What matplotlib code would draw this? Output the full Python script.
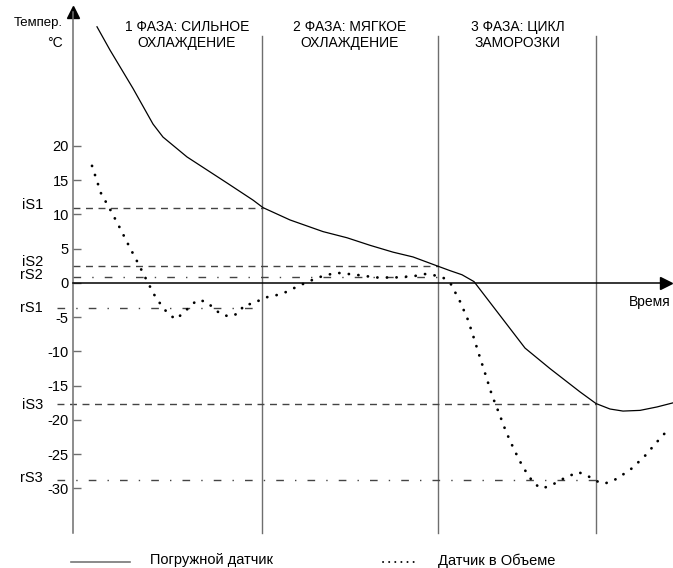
import matplotlib
matplotlib.use("Agg")
import matplotlib.pyplot as plt
from matplotlib.lines import Line2D

plt.rcParams['font.family'] = ['Liberation Sans', 'DejaVu Sans']
plt.rcParams['lines.scale_dashes'] = False

# ---- данные (время в условных единицах, температура в °C) ----
probe_t = [2.4, 3.7, 6.0, 8.0, 9.0, 11.4, 15.4, 18.0, 19.0, 21.7, 25.0, 27.4,
           29.7, 32.0, 34.0, 36.4, 37.7, 38.9, 40.1, 45.2, 47.7, 50.7, 52.3,
           53.7, 55.0, 56.7, 58.4, 60.0]
probe_temp = [37.4, 34.0, 28.4, 23.2, 21.3, 18.4, 14.6, 12.1, 11.0, 9.2, 7.5, 6.6,
              5.5, 4.5, 3.8, 2.5, 1.8, 1.2, 0.2, -9.5, -12.5, -15.9, -17.6,
              -18.4, -18.7, -18.6, -18.1, -17.5]

air_t = [1.9, 2.8, 3.8, 4.7, 5.6, 6.5, 7.4, 8.3, 9.5, 10.3, 11.0, 12.4, 13.3,
         14.8, 15.7, 16.6, 17.1, 18.1, 19.0, 20.9, 22.6, 24.5, 26.3, 28.3, 30.3,
         32.2, 34.1, 35.2, 36.2, 37.1, 37.8, 38.7, 39.5, 40.1, 40.7, 41.3, 41.9,
         42.6, 43.3, 44.1, 45.0, 46.1, 46.9, 47.9, 48.7, 50.5, 51.4, 52.3, 53.1,
         54.0, 55.7, 57.1, 58.4, 59.7]
air_temp = [17.1, 13.1, 10.5, 8.0, 5.4, 2.9, 0.3, -2.2, -4.5, -5.3, -4.4, -2.5,
            -2.7, -4.6, -4.9, -4.4, -3.2, -3.0, -2.2, -1.6, -0.4, 0.8, 1.5, 1.2,
            0.8, 0.8, 1.0, 1.3, 1.1, 0.7, -0.2, -2.7, -5.4, -8.1, -10.9, -13.6,
            -16.4, -19.0, -21.7, -24.3, -26.9, -29.3, -30.0, -29.5, -28.8, -27.6,
            -28.1, -28.9, -29.3, -28.9, -27.3, -25.4, -23.2, -21.1]

phase_bounds = [18.9, 36.5, 52.3]
phase_titles = ['1 ФАЗА: СИЛЬНОЕ\nОХЛАЖДЕНИЕ', '2 ФАЗА: МЯГКОЕ\nОХЛАЖДЕНИЕ',
                '3 ФАЗА: ЦИКЛ\nЗАМОРОЗКИ']
phase_centers = [11.4, 27.7, 44.5]

thr_names = ['iS1', 'iS2', 'rS2', 'rS1', 'iS3', 'rS3']
thr_values = [11.0, 2.5, 0.8, -3.6, -17.6, -28.8]
thr_start = [0, 0, 0, -1.6, -1.6, -1.6]
thr_end = [19.0, 36.5, 36.5, 18.9, 52.3, 52.3]
thr_kind = ['dash', 'dash', 'dashdot', 'dashdot', 'dash', 'dashdot']
thr_label_y = [11.4, 3.1, 1.2, -3.65, -17.8, -28.5]

yticks = [-30, -25, -20, -15, -10, -5, 0, 5, 10, 15, 20]

narrow = ['Liberation Sans Narrow', 'Liberation Sans', 'DejaVu Sans']

fig = plt.figure(figsize=(6.73, 5.68), dpi=100)
ax = fig.add_axes([0, 0, 1, 1])
ax.set_xlim(-7.3, 60.0)
ax.set_ylim(-41.61, 41.31)
ax.patch.set_visible(False)

# оси
ax.spines['top'].set_visible(False)
ax.spines['right'].set_visible(False)
ax.spines['left'].set_position(('data', 0))
ax.spines['left'].set_bounds(-36.5, 39.5)
ax.spines['left'].set_color('#6e6e6e')
ax.spines['left'].set_linewidth(1.1)
ax.spines['bottom'].set_position(('data', 0))
ax.spines['bottom'].set_bounds(0, 59.3)
ax.spines['bottom'].set_color('black')
ax.spines['bottom'].set_linewidth(1.1)
ax.set_xticks([])
ax.set_yticks(yticks)
ax.set_yticklabels([str(v) for v in yticks])
ax.tick_params(axis='y', direction='in', length=6, width=1, color='#6e6e6e',
               pad=3, labelsize=10.5)
ax.plot(0, 39.6, marker='^', color='black', ms=8, clip_on=False)
ax.plot(59.3, 0, marker='>', color='black', ms=8, clip_on=False)

# фазы
for xb in phase_bounds:
    ax.plot([xb, xb], [-36.5, 36.1], color='#6e6e6e', lw=1.0)
for xc, title in zip(phase_centers, phase_titles):
    ax.text(xc, 36.2, title, ha='center', va='center', fontsize=10,
            family=narrow, linespacing=1.25)

# пороги
for name, val, x0, x1, kind, ly in zip(thr_names, thr_values, thr_start,
                                       thr_end, thr_kind, thr_label_y):
    if kind == 'dash':
        dashes = (5.0, 4.0)
    else:
        dashes = (5.5, 8.0, 1.0, 8.0)
    ax.plot([x0, x1], [val, val], color='#444444', lw=1.0, dashes=dashes)
    ax.text(-3.0, ly, name, ha='right', va='center', fontsize=10.5)

# датчики
ax.plot(probe_t, probe_temp, color='black', lw=0.9, clip_on=False)
ax.plot(air_t, air_temp, color='black', lw=2.0, dashes=(0.1, 6.8),
        dash_capstyle='round', clip_on=False)

# подписи осей
ax.text(-1.0, 37.9, 'Темпер.', ha='right', va='center', fontsize=9.5, family=narrow)
ax.text(-1.0, 35.0, '°C', ha='right', va='center', fontsize=10, family=narrow)
ax.text(57.7, -2.8, 'Время', ha='center', va='center', fontsize=10, family=narrow)

# легенда
ax.add_line(Line2D([-0.2, 5.7], [-40.7, -40.7], color='#777777', lw=1.2))
ax.text(7.7, -40.5, 'Погружной датчик', ha='left', va='center', fontsize=10.5,
        family=narrow)
ax.add_line(Line2D([31.0, 34.3], [-40.7, -40.7], color='black', lw=1.4,
                   dashes=(0.1, 4.3), dash_capstyle='round'))
ax.text(36.5, -40.5, 'Датчик в Объеме', ha='left', va='center', fontsize=10.5,
        family=narrow)

fig.savefig('out.png', dpi=100)
